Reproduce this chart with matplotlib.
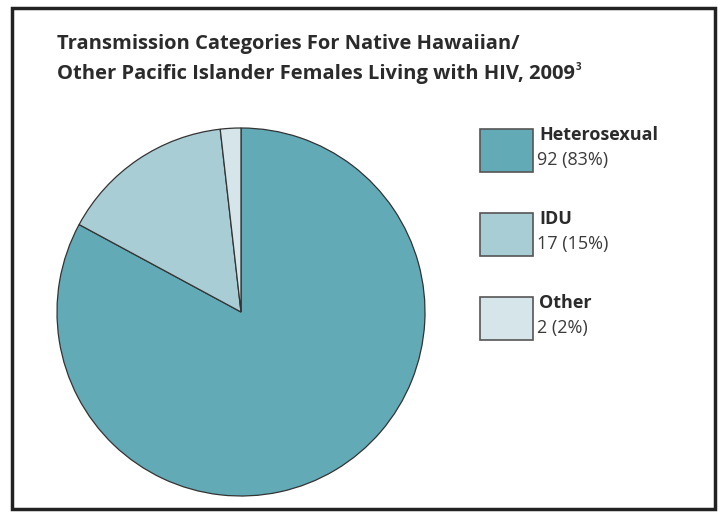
import matplotlib
matplotlib.use("Agg")
import matplotlib.pyplot as plt
from matplotlib.patches import Rectangle

# data
categories = ["Heterosexual", "IDU", "Other"]
counts = [92, 17, 2]
percents = [83, 15, 2]
colors = ["#63aab7", "#a9cdd5", "#d6e5e9"]
title_lines = [
    "Transmission Categories For Native Hawaiian/",
    "Other Pacific Islander Females Living with HIV, 2009",
]

W, H = 724, 512
fig = plt.figure(figsize=(W / 100, H / 100), dpi=100)
plt.rcParams["font.family"] = ["Open Sans", "DejaVu Sans"]


def fx(px):
    return px / W


def fy(py):
    return 1 - py / H


# outer frame
fig.patches.append(
    Rectangle((fx(12), fy(509)), fx(715) - fx(12), fy(8) - fy(509),
              transform=fig.transFigure, fill=False, edgecolor="#222222",
              linewidth=2.5)
)

# title
fig.text(fx(57), fy(44), title_lines[0], fontsize=14.5, fontweight="bold",
         color="#2b2b2b", va="center", ha="left")
t2 = fig.text(fx(57), fy(74), title_lines[1], fontsize=14.5, fontweight="bold",
              color="#2b2b2b", va="center", ha="left")
fig.canvas.draw()
bb = t2.get_window_extent()
fig.text(bb.x1 / W + 0.001, fy(68), "3", fontsize=7, fontweight="bold",
         color="#2b2b2b", va="center", ha="left")

# pie
ax = fig.add_axes([fx(57), fy(496), fx(425) - fx(57), fy(128) - fy(496)])
ax.pie(counts, colors=colors, startangle=90, counterclock=False,
       wedgeprops=dict(edgecolor="#333333", linewidth=0.9))
ax.set_xlim(-1, 1)
ax.set_ylim(-1, 1)
ax.set_aspect("auto")
ax.axis("off")

# legend
box_top = [129, 213, 297]
for i, cat in enumerate(categories):
    y0 = box_top[i]
    fig.patches.append(
        Rectangle((fx(480), fy(y0 + 43)), fx(533) - fx(480), fy(y0) - fy(y0 + 43),
                  transform=fig.transFigure, facecolor=colors[i],
                  edgecolor="#555555", linewidth=1.2)
    )
    fig.text(fx(539), fy(y0 + 6), cat, fontsize=13, fontweight="bold",
             color="#2b2b2b", va="center", ha="left")
    fig.text(fx(537), fy(y0 + 31), f"{counts[i]} ({percents[i]}%)", fontsize=13,
             color="#3a3a3a", va="center", ha="left")

fig.savefig("out.png", dpi=100)
